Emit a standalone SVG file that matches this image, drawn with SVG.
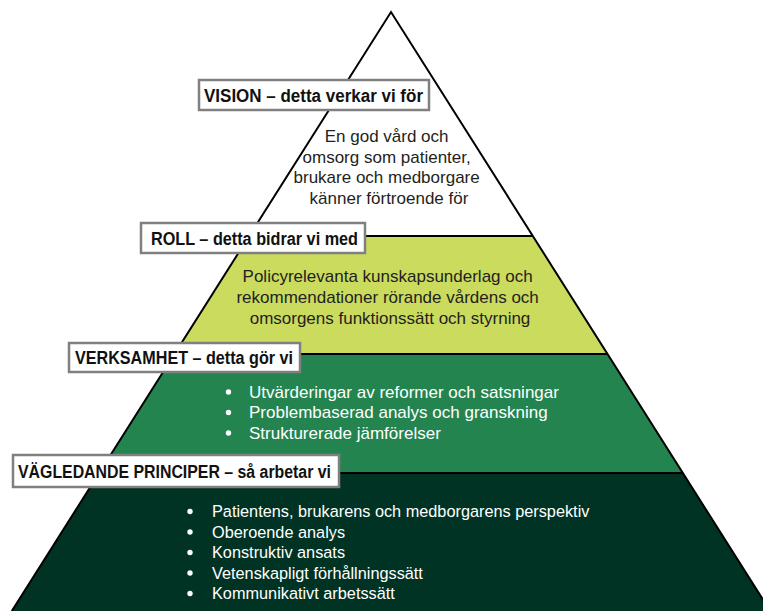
<svg xmlns="http://www.w3.org/2000/svg" width="763" height="611" viewBox="0 0 763 611">
<style>
.edge{fill:none;stroke:#000;stroke-width:2;stroke-linejoin:miter}
.div{stroke:#000;stroke-width:2}
.box{fill:#fff;stroke:#808080;stroke-width:2.5}
.lbl{font-family:"Liberation Sans",Arial,sans-serif;font-weight:bold;font-size:18px;fill:#111}
.body{font-family:"Liberation Sans",Arial,sans-serif;font-size:17px;fill:#231f20}
.wt{font-family:"Liberation Sans",Arial,sans-serif;font-size:17px;fill:#fff}
.bul{fill:#fff}
</style>
<rect width="763" height="611" fill="#fff"/>
<g id="layer-vision">
  <polygon points="391,12 532.8,236 249.2,236" fill="#fff"/>
</g>
<g id="layer-roll">
  <polygon points="249.2,236 532.8,236 607.5,354 174.5,354" fill="#cbdb5e"/>
</g>
<g id="layer-verksamhet">
  <polygon points="174.5,354 607.5,354 682.8,473 99.2,473" fill="#23844f"/>
</g>
<g id="layer-principer">
  <polygon points="99.2,473 682.8,473 770.2,611 11.8,611" fill="#013324"/>
</g>
<g id="outlines">
  <line class="div" x1="249.2" y1="236" x2="532.8" y2="236"/>
  <line class="div" x1="174.5" y1="354" x2="607.5" y2="354"/>
  <line class="div" x1="99.2" y1="473" x2="682.8" y2="473"/>
  <path class="edge" d="M11.8 611 L391 12 L770.2 611"/>
</g>
<g id="vision">
  <rect class="box" x="199" y="80" width="230" height="30"/>
  <text class="lbl" x="204" y="101.5" textLength="219" lengthAdjust="spacingAndGlyphs">VISION – detta verkar vi för</text>
  <text class="body" text-anchor="middle">
    <tspan x="389" y="142">En god vård och</tspan>
    <tspan x="389" y="162.5">omsorg som patienter,</tspan>
    <tspan x="389" y="183">brukare och medborgare</tspan>
    <tspan x="389" y="203.5">känner förtroende för</tspan>
  </text>
</g>
<g id="roll">
  <rect class="box" x="141" y="223" width="224" height="30"/>
  <text class="lbl" x="151" y="244.5" textLength="207" lengthAdjust="spacingAndGlyphs">ROLL – detta bidrar vi med</text>
  <text class="body" text-anchor="middle">
    <tspan x="390" y="282">Policyrelevanta kunskapsunderlag och</tspan>
    <tspan x="390" y="303">rekommendationer rörande vårdens och</tspan>
    <tspan x="390" y="324">omsorgens funktionssätt och styrning</tspan>
  </text>
</g>
<g id="verksamhet">
  <rect class="box" x="69" y="343" width="231" height="29"/>
  <text class="lbl" x="75" y="364" textLength="218" lengthAdjust="spacingAndGlyphs">VERKSAMHET – detta gör vi</text>
  <circle class="bul" cx="228.5" cy="392" r="2.7"/>
  <circle class="bul" cx="228.5" cy="412.5" r="2.7"/>
  <circle class="bul" cx="228.5" cy="433" r="2.7"/>
  <text class="wt">
    <tspan x="249" y="397.5">Utvärderingar av reformer och satsningar</tspan>
    <tspan x="249" y="418">Problembaserad analys och granskning</tspan>
    <tspan x="249" y="438.5">Strukturerade jämförelser</tspan>
  </text>
</g>
<g id="principer">
  <rect class="box" x="13" y="455" width="326" height="32"/>
  <text class="lbl" x="18" y="477.5" textLength="313" lengthAdjust="spacingAndGlyphs">VÄGLEDANDE PRINCIPER – så arbetar vi</text>
  <circle class="bul" cx="190" cy="511.5" r="2.7"/>
  <circle class="bul" cx="190" cy="532" r="2.7"/>
  <circle class="bul" cx="190" cy="552.5" r="2.7"/>
  <circle class="bul" cx="190" cy="573" r="2.7"/>
  <circle class="bul" cx="190" cy="593.5" r="2.7"/>
  <text class="wt" style="font-size:16.3px">
    <tspan x="212" y="517">Patientens, brukarens och medborgarens perspektiv</tspan>
    <tspan x="212" y="537.5">Oberoende analys</tspan>
    <tspan x="212" y="558">Konstruktiv ansats</tspan>
    <tspan x="212" y="578.5">Vetenskapligt förhållningssätt</tspan>
    <tspan x="212" y="599">Kommunikativt arbetssätt</tspan>
  </text>
</g>
</svg>
